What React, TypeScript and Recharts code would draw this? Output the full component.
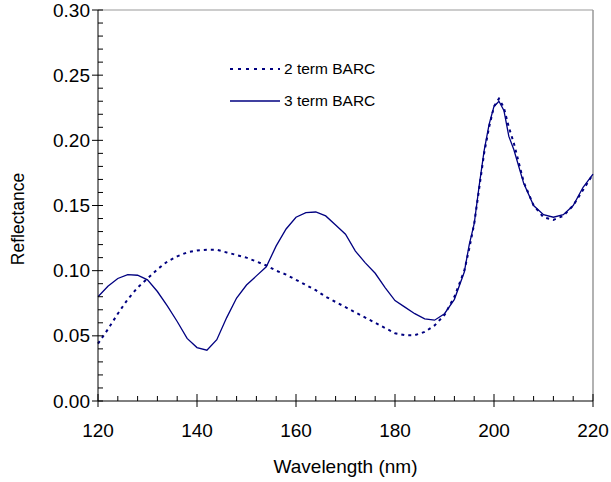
import { LineChart, Line, XAxis, YAxis, ReferenceLine, Legend } from "recharts";

const wavelengths = [
  120, 122, 124, 126, 128, 130, 132, 134, 136, 138, 140, 142, 144, 146, 148,
  150, 152, 154, 156, 158, 160, 162, 164, 166, 168, 170, 172, 174, 176, 178,
  180, 182, 184, 186, 188, 190, 192, 194, 195, 196, 197, 198, 199, 200, 201,
  202, 203, 204, 206, 208, 210, 212, 214, 216, 218, 220,
];

const twoTerm = [
  0.044, 0.055, 0.067, 0.078, 0.087, 0.094, 0.101, 0.107, 0.111, 0.114,
  0.1155, 0.116, 0.116, 0.114, 0.112, 0.11, 0.107, 0.104, 0.1, 0.097, 0.093,
  0.089, 0.085, 0.08, 0.076, 0.072, 0.068, 0.064, 0.06, 0.056, 0.052, 0.0505,
  0.0505, 0.053, 0.058, 0.066, 0.08, 0.1, 0.117, 0.136, 0.163, 0.19, 0.21,
  0.226, 0.232, 0.225, 0.21, 0.198, 0.168, 0.15, 0.141, 0.139, 0.142, 0.15,
  0.162, 0.174,
];

const threeTerm = [
  0.08, 0.088, 0.094, 0.097, 0.0965, 0.093, 0.084, 0.073, 0.061, 0.048, 0.041,
  0.039, 0.047, 0.064, 0.079, 0.089, 0.096, 0.103, 0.119, 0.132, 0.141,
  0.1445, 0.145, 0.142, 0.135, 0.128, 0.115, 0.106, 0.098, 0.087, 0.077,
  0.072, 0.067, 0.063, 0.062, 0.067, 0.078, 0.099, 0.12, 0.136, 0.165, 0.192,
  0.212, 0.226, 0.23, 0.223, 0.203, 0.193, 0.167, 0.15, 0.143, 0.141, 0.143,
  0.15, 0.164, 0.174,
];

const xTicks = [
  120, 124, 128, 132, 136, 140, 144, 148, 152, 156, 160, 164, 168, 172, 176,
  180, 184, 188, 192, 196, 200, 204, 208, 212, 216, 220,
];

const yTicks = [
  0, 0.01, 0.02, 0.03, 0.04, 0.05, 0.06, 0.07, 0.08, 0.09, 0.1, 0.11, 0.12,
  0.13, 0.14, 0.15, 0.16, 0.17, 0.18, 0.19, 0.2, 0.21, 0.22, 0.23, 0.24, 0.25,
  0.26, 0.27, 0.28, 0.29, 0.3,
];

const seriesNames = ["2 term BARC", "3 term BARC"];

const data = wavelengths.map((w, i) => ({
  wavelength: w,
  twoTerm: twoTerm[i],
  threeTerm: threeTerm[i],
}));

const FONT = "'Liberation Sans', Arial, sans-serif";
const NAVY = "#000080";

const XTick = (props: any) => {
  const { x, y, payload } = props;
  const major = payload.value % 20 === 0;
  return (
    <g>
      <line x1={x} x2={x} y1={major ? y - 7 : y - 5} y2={major ? y + 6 : y} stroke="#000" />
      {major && (
        <text x={x} y={y + 36} textAnchor="middle" fontSize={19} fontFamily={FONT} fill="#000">
          {payload.value}
        </text>
      )}
    </g>
  );
};

const YTick = (props: any) => {
  const { x, y, payload } = props;
  const major = Math.round(payload.value * 100) % 5 === 0;
  return (
    <g>
      <line x1={major ? x - 6 : x} x2={x + 5} y1={y} y2={y} stroke="#000" />
      {major && (
        <text x={x - 8} y={y} dy="0.35em" textAnchor="end" fontSize={19} fontFamily={FONT} fill="#000">
          {payload.value.toFixed(2)}
        </text>
      )}
    </g>
  );
};

// rotated y title, placed by hand like the original
const YTitle = () => (
  <text
    x={18}
    y={219}
    transform="rotate(-90 18 219)"
    textAnchor="middle"
    dy="0.35em"
    fontSize={17.5}
    fontFamily={FONT}
    fill="#000"
  >
    Reflectance
  </text>
);

const renderLegend = () => (
  <div style={{ fontFamily: FONT, fontSize: 15.5, color: "#000" }}>
    {seriesNames.map((name, i) => (
      <div key={name} style={{ display: "flex", alignItems: "center", height: 32 }}>
        <svg width={52} height={10}>
          <line
            x1={0}
            x2={50}
            y1={5}
            y2={5}
            stroke={NAVY}
            strokeWidth={i === 0 ? 2 : 1.3}
            strokeDasharray={i === 0 ? "3 5" : undefined}
          />
        </svg>
        <span style={{ marginLeft: 2 }}>{name}</span>
      </div>
    ))}
  </div>
);

export default function App() {
  return (
    <div style={{ position: "absolute", left: 0, top: 0, background: "#fff" }}>
      <LineChart
        width={611}
        height={482}
        data={data}
        margin={{ top: 10, right: 18, bottom: 0, left: 0 }}
      >
        <XAxis
          dataKey="wavelength"
          type="number"
          domain={[120, 220]}
          ticks={xTicks}
          interval={0}
          tickSize={0}
          tickMargin={0}
          tickLine={false}
          tick={<XTick />}
          axisLine={{ stroke: "#000" }}
          height={81}
          label={{
            value: "Wavelength (nm)",
            position: "insideBottom",
            offset: 9,
            fontSize: 19,
            fontFamily: FONT,
            fill: "#000",
          }}
        />
        <YAxis
          type="number"
          domain={[0, 0.3]}
          ticks={yTicks}
          interval={0}
          tickSize={0}
          tickMargin={0}
          tickLine={false}
          tick={<YTick />}
          axisLine={{ stroke: "#000" }}
          width={98}
          label={<YTitle />}
        />
        <ReferenceLine y={0.3} stroke="#999" />
        <ReferenceLine x={220} stroke="#999" strokeWidth={1.5} />
        <Legend
          layout="vertical"
          align="center"
          verticalAlign="middle"
          content={renderLegend}
          wrapperStyle={{ top: 53, left: 230, width: 200 }}
        />
        <Line
          type="linear"
          dataKey="twoTerm"
          name={seriesNames[0]}
          stroke={NAVY}
          strokeWidth={2}
          strokeDasharray="3 4"
          dot={false}
          isAnimationActive={false}
        />
        <Line
          type="linear"
          dataKey="threeTerm"
          name={seriesNames[1]}
          stroke={NAVY}
          strokeWidth={1.3}
          dot={false}
          isAnimationActive={false}
        />
      </LineChart>
    </div>
  );
}
